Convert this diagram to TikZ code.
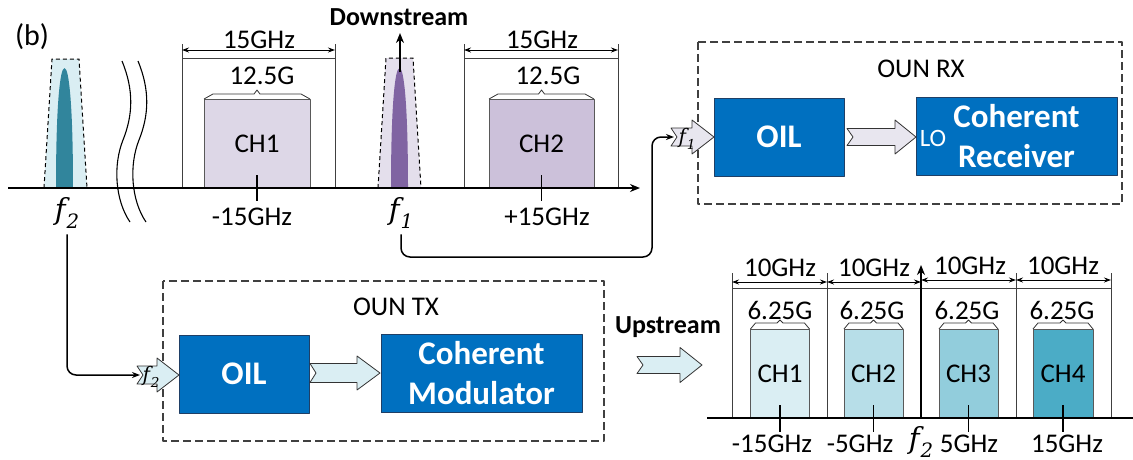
\documentclass[tikz,border=0pt]{standalone}
\usepackage{fontspec}
\setmainfont{Carlito}
\newfontfamily\freqfont{DejaVu Serif}
\usetikzlibrary{arrows.meta}

\definecolor{boxblue}{HTML}{0070C0}
\definecolor{boxedge}{HTML}{1F3F66}
\definecolor{lavA}{HTML}{E4DFEC}
\definecolor{lavCh}{HTML}{DDD7E7}
\definecolor{lavB}{HTML}{CCC1DA}
\definecolor{purp}{HTML}{8064A2}
\definecolor{tealA}{HTML}{DAEEF3}
\definecolor{tealB}{HTML}{B7DEE8}
\definecolor{tealC}{HTML}{92CDDC}
\definecolor{tealD}{HTML}{4BACC6}
\definecolor{tealdark}{HTML}{31859C}
\definecolor{arrowlav}{HTML}{E8E6EF}

\newcommand\fs[1]{\fontsize{#1}{#1}\selectfont}
% italic carrier symbol f with a subscript index
\newcommand\carrier[1]{{\freqfont\itshape f\kern0.04em\raisebox{-0.28em}{\fontsize{0.68em}{0.68em}\selectfont #1}}}

% flat brace over a channel: x0, x1, top y, corner dx, rise, notch height
\newcommand\chbrace[6]{%
  \draw[brace] (#1,#3) -- ({#1+#4},{#3-#5}) -- ({(#1+#2)/2-3},{#3-#5})
    -- ({(#1+#2)/2},{#3-#5-#6}) -- ({(#1+#2)/2+3},{#3-#5})
    -- ({#2-#4},{#3-#5}) -- (#2,#3);}

% notched block arrow: tail x, head x, tip x, centre y, body half, head half, fill
\newcommand\notchedarrow[7]{%
  \draw[blockarrow, fill=#7] (#1,{#4-#5}) -- (#2,{#4-#5}) -- (#2,{#4-#6})
    -- (#3,#4) -- (#2,{#4+#6}) -- (#2,{#4+#5}) -- (#1,{#4+#5})
    -- ({#1+6},#4) -- cycle;}

\begin{document}
\begin{tikzpicture}[x=1pt,y=-1pt,line join=round,
  lbl/.style={font=\fs{27}, inner sep=0pt},
  boldlbl/.style={font=\bfseries\fs{26}, inner sep=0pt},
  flbl/.style={font=\fs{29}, inner sep=0pt},
  fsmall/.style={font=\fs{20}, inner sep=0pt},
  chan/.style={draw=black!65, line width=0.8pt, inner sep=0pt, font=\fs{27}},
  bluebox/.style={draw=boxedge, line width=0.8pt, fill=boxblue, text=white,
    font=\bfseries\fontsize{33}{40}\selectfont, inner sep=0pt, align=center},
  frame/.style={line width=0.8pt, black!75},
  dimarrow/.style={line width=0.9pt, {Stealth[length=7pt,width=5pt]}-{Stealth[length=7pt,width=5pt]}},
  brace/.style={line width=0.8pt, black!80},
  tick/.style={line width=1.3pt},
  axis/.style={line width=1.5pt},
  arrowed/.style={line width=1.5pt, -{Stealth[length=10pt,width=8pt]}},
  peakedge/.style={line width=1pt, dash pattern=on 4pt off 3pt},
  wave/.style={line width=1.1pt},
  dashbox/.style={draw=black!75, line width=1.2pt, dash pattern=on 8pt off 4pt},
  blockarrow/.style={draw=black!80, line width=0.8pt},
  conn/.style={line width=1.5pt, rounded corners=9pt, -{Stealth[length=8pt,width=6pt]}}]
\useasboundingbox (0,0) rectangle (1133,459);

\node[lbl, font=\fs{30}] (tag) at (32,37) {(b)};

% ---------- downstream spectrum ----------
% carrier f2
\fill[tealA] (44,188) -- (52,59) -- (79,59) -- (87,188) -- cycle;
\fill[tealdark] (56,188) .. controls (56,105) and (60,68) .. (64.5,68)
  .. controls (69,68) and (73,105) .. (73,188) -- cycle;
\draw[peakedge] (44,188) -- (52,59) -- (79,59) -- (87,188);
% carrier f1
\fill[lavA] (378,188) -- (386,58) -- (413,58) -- (421,188) -- cycle;
\fill[purp] (391,188) .. controls (391,105) and (395,68) .. (399.5,68)
  .. controls (404,68) and (408,105) .. (408,188) -- cycle;
\draw[peakedge] (378,188) -- (386,58) -- (413,58) -- (421,188);

% axis break
\draw[wave] (122,61) .. controls (134,90) and (133,115) .. (123,140)
  .. controls (113,165) and (115,200) .. (130,222);
\draw[wave] (138,61) .. controls (150,90) and (149,115) .. (139,140)
  .. controls (129,165) and (131,200) .. (146,222);

% channel grids
\draw[frame] (182,188) -- (182,44);
\draw[frame] (335,188) -- (335,44);
\draw[frame] (182,58) -- (335,58);
\draw[dimarrow] (182,50) -- (335,50);
\node[lbl] (dw1) at (259,40) {15GHz};
\draw[frame] (464,188) -- (464,44);
\draw[frame] (618,188) -- (618,44);
\draw[frame] (464,58) -- (618,58);
\draw[dimarrow] (464,50) -- (618,50);
\node[lbl] (dw2) at (542,40) {15GHz};

\node[chan, fill=lavCh, minimum width=106pt, minimum height=89pt] (dch1) at (257,143.5) {CH1};
\node[chan, fill=lavB, minimum width=105pt, minimum height=89pt] (dch2) at (541.5,143.5) {CH2};
\chbrace{204}{310}{99}{9}{5}{4}
\chbrace{489}{594}{99}{9}{5}{4}
\node[lbl] (db1) at (262,76) {12.5G};
\node[lbl] (db2) at (548,76) {12.5G};

\draw[axis, -{Stealth[length=10pt,width=8pt]}] (8,188) -- (640,188);
\draw[tick] (257,175) -- (257,201);
\draw[tick] (541.5,175) -- (541.5,201);
\node[lbl] (dfreq1) at (252,217) {-15GHz};
\node[lbl] (dfreq2) at (547,217) {+15GHz};

\node[flbl] (f2lbl) at (67,213) {\carrier{2}};
\node[flbl] (f1lbl) at (401,213) {\carrier{1}};

\node[boldlbl] (down) at (399,17) {Downstream};
\draw[arrowed] (400,72) -- (400,33);

% ---------- OUN RX ----------
\draw[dashbox] (698,42) rectangle (1122,204);
\node[lbl] (rxtitle) at (921,69) {OUN RX};
\node[bluebox, minimum width=130pt, minimum height=78pt] (rxoil) at (779,137) {OIL};
\node[bluebox, minimum width=201pt, minimum height=78pt] (rxcoh) at (1016.5,136) {Coherent\\Receiver};
\node[font=\fs{25}, text=white, inner sep=0pt] (lo) at (933,138) {LO};
\notchedarrow{671}{692}{714}{137}{9}{17}{arrowlav}
\node[fsmall] (rxf) at (687,139) {\carrier{1}};
\notchedarrow{847}{895}{916}{137}{8.5}{17}{arrowlav}
\coordinate (rxin) at (674,137);
\draw[conn, shorten <=6pt] (f1lbl.south) |- (652,257) |- (rxin);

% ---------- OUN TX ----------
\draw[dashbox] (163,281) rectangle (604,441);
\node[lbl] (txtitle) at (396,307) {OUN TX};
\node[bluebox, minimum width=130pt, minimum height=78pt] (txoil) at (244,374) {OIL};
\node[bluebox, minimum width=201pt, minimum height=78pt] (txmod) at (481.5,373.5) {Coherent\\Modulator};
\notchedarrow{137}{157}{179}{375}{9}{17}{tealA}
\node[fsmall] (txf) at (151,377) {\carrier{2}};
\notchedarrow{310}{357}{380}{373}{9.5}{17}{tealA}
\coordinate (txin) at (140,375);
\draw[conn, shorten <=6pt] (f2lbl.south) |- (txin);

% ---------- upstream spectrum ----------
\node[boldlbl] (up) at (668,327) {Upstream};
\notchedarrow{637}{680}{702}{365}{8.5}{17.5}{tealA}

\draw[frame] (732,418) -- (732,273);
\draw[frame] (827,418) -- (827,273);
\draw[frame] (1016,418) -- (1016,273);
\draw[frame] (1111,418) -- (1111,273);
\draw[frame] (732,288) -- (1111,288);
\draw[dimarrow] (732,282) -- (827,282);
\draw[dimarrow] (827,282) -- (921,282);
\draw[dimarrow] (921,280) -- (1016,280);
\draw[dimarrow] (1016,280) -- (1111,280);
\node[lbl] (uw1) at (780,268) {10GHz};
\node[lbl] (uw2) at (874,268) {10GHz};
\node[lbl] (uw3) at (970,266) {10GHz};
\node[lbl] (uw4) at (1063,266) {10GHz};

\node[chan, fill=tealA, minimum width=59pt, minimum height=89pt] (uch1) at (780,373.5) {CH1};
\node[chan, fill=tealB, minimum width=59pt, minimum height=89pt] (uch2) at (873.5,373.5) {CH2};
\node[chan, fill=tealC, minimum width=59pt, minimum height=89pt] (uch3) at (968.5,373.5) {CH3};
\node[chan, fill=tealD, minimum width=60pt, minimum height=89pt] (uch4) at (1063,373.5) {CH4};
\chbrace{750.5}{809.5}{329}{5}{6}{3}
\chbrace{844}{903}{329}{5}{6}{3}
\chbrace{939}{998}{329}{5}{6}{3}
\chbrace{1033}{1093}{329}{5}{6}{3}
\node[lbl] (ub1) at (780,310) {6.25G};
\node[lbl] (ub2) at (872,310) {6.25G};
\node[lbl] (ub3) at (967,310) {6.25G};
\node[lbl] (ub4) at (1062,310) {6.25G};

\draw[axis] (707,418) -- (1133,418);
\draw[arrowed] (921,418) -- (921,265);
\draw[tick] (780,405) -- (780,432);
\draw[tick] (873.5,405) -- (873.5,432);
\draw[tick] (968.5,405) -- (968.5,432);
\draw[tick] (1063,405) -- (1063,432);
\node[lbl] (uf1) at (772,444) {-15GHz};
\node[lbl] (uf2) at (860,444) {-5GHz};
\node[flbl] (uf2c) at (921,442) {\carrier{2}};
\node[lbl] (uf3) at (969,444) {5GHz};
\node[lbl] (uf4) at (1067,444) {15GHz};
\end{tikzpicture}
\end{document}
